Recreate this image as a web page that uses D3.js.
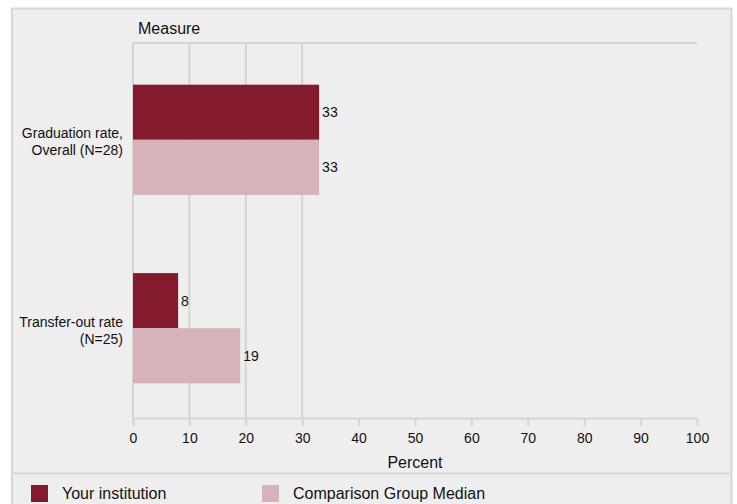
<!DOCTYPE html>
<html>
<head>
<meta charset="utf-8">
<script src="https://cdn.jsdelivr.net/npm/d3@7"></script>
<style>
  html, body { margin: 0; padding: 0; background: #ffffff; }
  text { font-family: Arial, "Liberation Sans", Helvetica, sans-serif; fill: #111; }
</style>
</head>
<body>
<svg id="chart" width="737" height="504"></svg>
<script>
const categories = [["Graduation rate,", "Overall (N=28)"], ["Transfer-out rate", "(N=25)"]];
const categoryKeys = ["grad", "transfer"];
const seriesNames = ["Your institution", "Comparison Group Median"];
const yourInstitution = [33, 8];
const comparisonMedian = [33, 19];
const xTicks = [0, 10, 20, 30, 40, 50, 60, 70, 80, 90, 100];
const gridValues = [0, 10, 20, 30];
const colors = ["#841b2d", "#d5b3b8"];

const svg = d3.select("#chart");
const bg = "#eeeeee", lineCol = "#d4d4d4";

// outer panel
svg.append("rect").attr("x", 12).attr("y", 8.5).attr("width", 719.5).attr("height", 510)
  .attr("fill", bg).attr("stroke", "#d6d6d6").attr("stroke-width", 2);
svg.append("line").attr("x1", 12).attr("x2", 731).attr("y1", 473.5).attr("y2", 473.5)
  .attr("stroke", "#d6d6d6").attr("stroke-width", 2);

const x = d3.scaleLinear().domain([0, 100]).range([133, 697]);
const y0 = d3.scaleBand().domain(categoryKeys).range([47, 421]).paddingInner(0.415).paddingOuter(0.2);
const y1 = d3.scaleBand().domain([0, 1]).range([0, y0.bandwidth()]);

const plotTop = 43, plotBottom = 418;

// top line
svg.append("line").attr("x1", x(0)).attr("x2", x(100)).attr("y1", plotTop).attr("y2", plotTop)
  .attr("stroke", lineCol).attr("stroke-width", 2);
// gridlines
svg.selectAll(".grid").data(gridValues).enter().append("line")
  .attr("x1", d => x(d)).attr("x2", d => x(d)).attr("y1", plotTop).attr("y2", plotBottom)
  .attr("stroke", lineCol).attr("stroke-width", 2);

// x axis
const axisG = svg.append("g").attr("transform", `translate(0,${plotBottom})`)
  .call(d3.axisBottom(x).tickValues(xTicks).tickSize(8).tickPadding(7).tickSizeOuter(0));
axisG.attr("font-size", null).attr("font-family", null);
axisG.select(".domain").attr("stroke", lineCol).attr("stroke-width", 2);
axisG.selectAll(".tick line").attr("stroke", lineCol).attr("stroke-width", 2);
axisG.selectAll(".tick text").attr("font-size", "14px").attr("fill", "#111");

svg.append("text").attr("x", (x(0) + x(100)) / 2).attr("y", 462).attr("dy", "0.35em")
  .attr("text-anchor", "middle").attr("font-size", "16px").text("Percent");
svg.append("text").attr("x", 138).attr("y", 28).attr("dy", "0.35em")
  .attr("font-size", "16px").text("Measure");

// bars
const rows = categoryKeys.map((k, i) => ({ key: k, vals: [yourInstitution[i], comparisonMedian[i]] }));
const g = svg.selectAll(".grp").data(rows).enter().append("g")
  .attr("transform", d => `translate(0,${y0(d.key)})`);
g.selectAll("rect").data(d => d.vals.map((v, j) => ({ v, j }))).enter().append("rect")
  .attr("x", x(0)).attr("y", d => y1(d.j)).attr("height", y1.bandwidth())
  .attr("width", d => x(d.v) - x(0)).attr("fill", d => colors[d.j]);
g.selectAll(".val").data(d => d.vals.map((v, j) => ({ v, j }))).enter().append("text")
  .attr("x", d => x(d.v) + 3).attr("y", d => y1(d.j) + y1.bandwidth() / 2).attr("dy", "0.35em")
  .attr("font-size", "14px").text(d => d3.format("d")(d.v));

// category labels
categoryKeys.forEach((k, i) => {
  const cy = y0(k) + y0.bandwidth() / 2 + 2;
  const t = svg.append("text").attr("text-anchor", "end").attr("font-size", "14px");
  categories[i].forEach((line, li) => {
    t.append("tspan").attr("x", 123).attr("y", cy + (li - (categories[i].length - 1) / 2) * 17)
      .attr("dy", "0.35em").text(line);
  });
});

// legend
const legendX = [31, 262];
seriesNames.forEach((name, i) => {
  svg.append("rect").attr("x", legendX[i]).attr("y", 485).attr("width", 17).attr("height", 17)
    .attr("fill", colors[i]);
  svg.append("text").attr("x", legendX[i] + 31).attr("y", 493).attr("dy", "0.35em")
    .attr("font-size", "16px").text(name);
});
</script>
</body>
</html>
